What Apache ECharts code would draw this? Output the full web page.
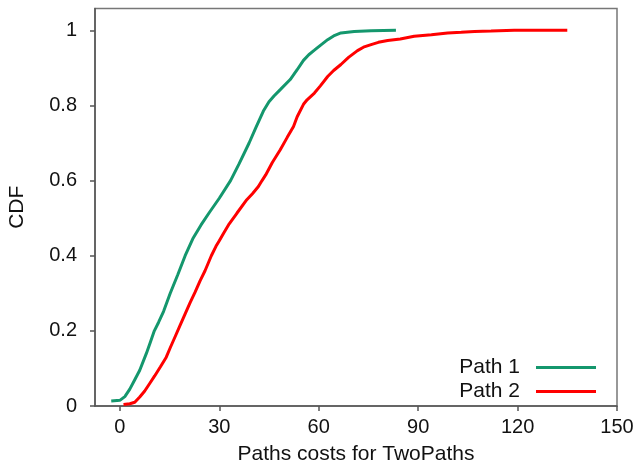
<!DOCTYPE html>
<html>
<head>
<meta charset="utf-8">
<script src="https://cdn.jsdelivr.net/npm/echarts@6/dist/echarts.min.js"></script>
<style>
  html, body { margin: 0; padding: 0; background: #fff; }
  #chart { width: 634px; height: 463px; }
</style>
</head>
<body>
<div id="chart"></div>
<script>
// Path 1 (green) CDF points
var path1X = [-2.6, 0, 1.5, 3, 4.5, 6, 8, 9.2, 10.4, 11.7, 13.2, 15.2, 17.5, 19.7, 22, 24.5, 27, 30, 33.4, 36, 39, 41, 43.3, 45, 46.5, 48.4, 51.4, 53.5, 55.4, 57, 58.7, 60.5, 62.7, 64.5, 66.7, 70.7, 75.8, 83.3];
var path1Y = [0.013, 0.015, 0.025, 0.045, 0.07, 0.095, 0.14, 0.17, 0.2, 0.223, 0.252, 0.3, 0.35, 0.4, 0.445, 0.482, 0.515, 0.553, 0.6, 0.645, 0.7, 0.74, 0.785, 0.81, 0.825, 0.842, 0.869, 0.895, 0.92, 0.935, 0.947, 0.96, 0.975, 0.985, 0.993, 0.997, 0.999, 1.0];
// Path 2 (red) CDF points
var path2X = [1.1, 3, 4.5, 6, 7.5, 9, 10.5, 12.2, 14, 15.2, 16.7, 18.2, 19.7, 21.2, 22.7, 24.2, 25.7, 27.6, 29, 30, 31.3, 33, 35.3, 38.3, 40, 41.8, 42.9, 44, 46, 48.4, 50.5, 52.4, 53.5, 55.4, 56.5, 58.7, 60.5, 62.7, 64.5, 66.7, 69, 71.7, 73.5, 75.8, 78, 80.8, 84.6, 88.8, 94, 98.9, 103, 107, 112, 119, 135];
var path2Y = [0.004, 0.006, 0.01, 0.024, 0.04, 0.06, 0.08, 0.104, 0.13, 0.155, 0.185, 0.215, 0.245, 0.275, 0.303, 0.333, 0.36, 0.4, 0.425, 0.44, 0.46, 0.485, 0.513, 0.549, 0.565, 0.584, 0.6, 0.615, 0.648, 0.682, 0.715, 0.744, 0.77, 0.803, 0.815, 0.833, 0.852, 0.877, 0.893, 0.909, 0.928, 0.946, 0.955, 0.962, 0.968, 0.973, 0.977, 0.984, 0.988, 0.993, 0.995, 0.997, 0.998, 1.0, 1.0];
// tick labels
var xTicks = [0, 30, 60, 90, 120, 150];
var yTicks = [0, 0.2, 0.4, 0.6, 0.8, 1];

function pairs(xs, ys) {
  var out = [];
  for (var i = 0; i < xs.length; i++) out.push([xs[i], ys[i]]);
  return out;
}

var myChart = echarts.init(document.getElementById('chart'));
var font = 'Liberation Sans, Arial, sans-serif';
var axisColor = '#555';

var option = {
  animation: false,
  grid: {
    left: 95, right: 17, top: 8.5, bottom: 57,
    show: true, borderColor: '#777', borderWidth: 1.5,
    containLabel: false,
    outerBoundsMode: 'none'
  },
  legend: {
    right: 38,
    top: 357,
    padding: 0,
    orient: 'vertical',
    align: 'right',
    icon: 'rect',
    itemWidth: 60,
    itemHeight: 3,
    itemGap: 3,
    textStyle: { fontFamily: font, fontSize: 21, color: '#111', padding: [0, 11, 0, 0] },
    data: ['Path 1', 'Path 2']
  },
  xAxis: {
    type: 'value',
    min: -7.5,
    max: 150,
    name: 'Paths costs for TwoPaths',
    nameLocation: 'middle',
    nameGap: 38,
    nameTextStyle: { fontFamily: font, fontSize: 21, color: '#111' },
    splitLine: { show: false },
    axisLine: { onZero: false, lineStyle: { color: axisColor, width: 1.5 } },
    axisTick: { length: 5, lineStyle: { color: axisColor, width: 1.5 }, customValues: xTicks },
    axisLabel: { fontFamily: font, fontSize: 20, color: '#111', margin: 11, customValues: xTicks }
  },
  yAxis: {
    type: 'value',
    min: 0,
    max: 1.058,
    name: 'CDF',
    nameLocation: 'middle',
    nameGap: 67,
    nameTextStyle: { fontFamily: font, fontSize: 21, color: '#111' },
    splitLine: { show: false },
    axisLine: { show: true, onZero: false, lineStyle: { color: axisColor, width: 1.5 } },
    axisTick: { show: true, length: 5, lineStyle: { color: axisColor, width: 1.5 }, customValues: yTicks },
    axisLabel: { fontFamily: font, fontSize: 20, color: '#111', margin: 18, customValues: yTicks }
  },
  series: [
    {
      name: 'Path 1',
      type: 'line',
      data: pairs(path1X, path1Y),
      showSymbol: false,
      symbol: 'none',
      color: '#14976d',
      lineStyle: { width: 3, color: '#14976d' }
    },
    {
      name: 'Path 2',
      type: 'line',
      data: pairs(path2X, path2Y),
      showSymbol: false,
      symbol: 'none',
      color: '#ff0000',
      lineStyle: { width: 3, color: '#ff0000' }
    }
  ]
};
myChart.setOption(option);
window.addEventListener('resize', function () {
  myChart.resize();
});
</script>
</body>
</html>
